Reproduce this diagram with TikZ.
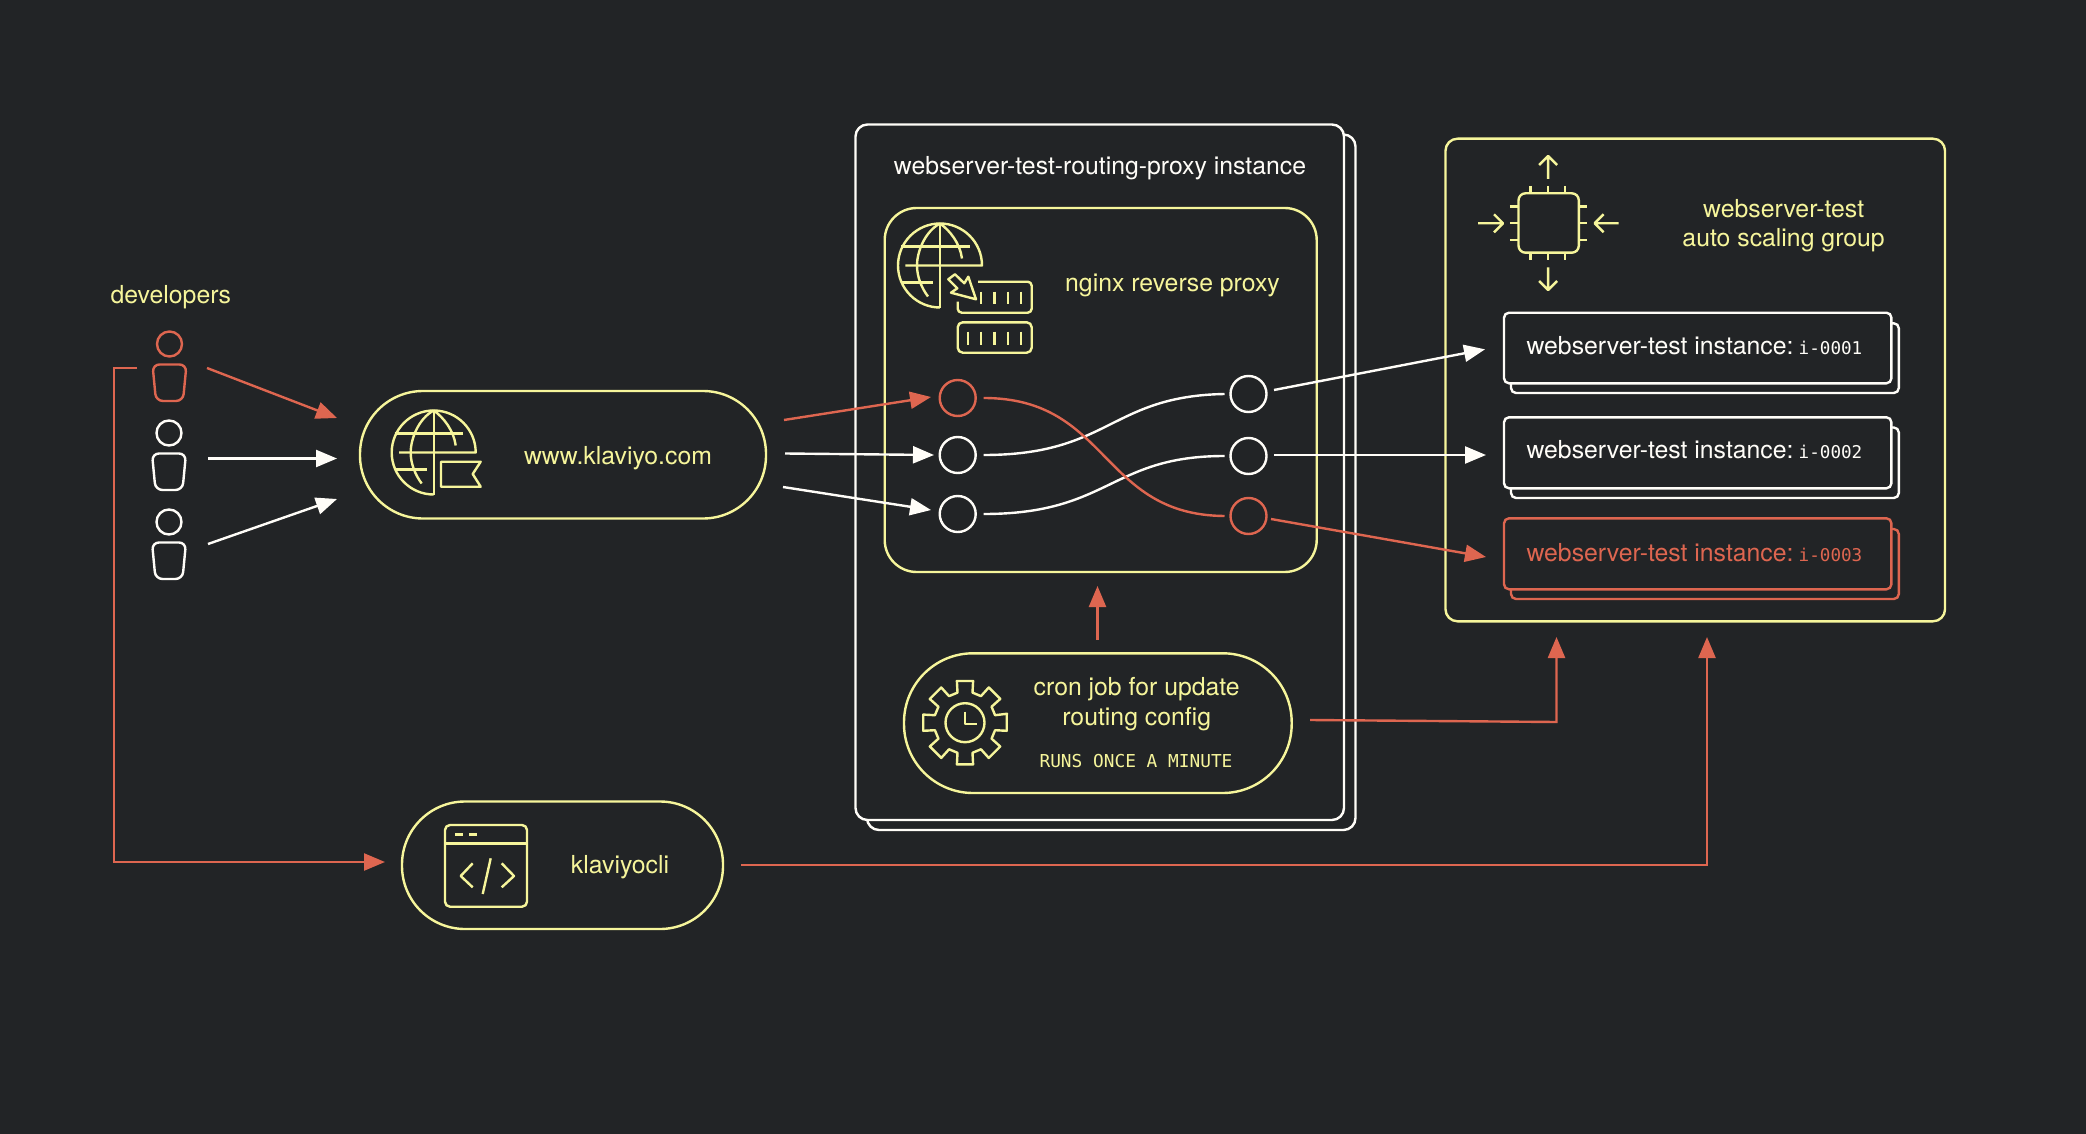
\documentclass[tikz,border=0pt]{standalone}
\usepackage{fontspec}
\setmainfont{TeX Gyre Heros}
\newfontfamily\monof{DejaVu Sans Mono}
\usetikzlibrary{arrows.meta}
\definecolor{bgc}{HTML}{222426}
\definecolor{yel}{HTML}{F6F59B}
\definecolor{redc}{HTML}{DE6650}
\definecolor{whi}{HTML}{FFFDF8}
\newcommand{\bx}[6][]{%
  \pgfmathsetmacro\bxw{#5-#3}\pgfmathsetmacro\bxh{#6-#4}%
  \node[#1,minimum width=\bxw pt,minimum height=\bxh pt,anchor=north west,inner sep=0pt,outer sep=0pt] (#2) at (#3,#4) {};}
\newcommand{\globeicon}[2]{%
  \begin{scope}[shift={(#1,#2)},yline]
  \draw (0,42) .. controls (-23.2,42) and (-42,23.2) .. (-42,0) .. controls (-42,-23.2) and (-23.2,-42) .. (0,-42) .. controls (23.2,-42) and (42,-23.2) .. (42,0) -- (-34.7,0);
  \draw (0,-42) -- (0,42);
  \draw (-39,-19) -- (29.5,-19);
  \draw (-38,17) -- (-7,17);
  \draw (0,-42) .. controls (-15,-34) and (-23,-14) .. (-23,0) .. controls (-23,12) and (-18,23) .. (-12,31);
  \draw (0,-42) .. controls (10,-35) and (20,-22) .. (22,-7);
  \end{scope}}
\newcommand{\person}[3]{%
  \begin{scope}[shift={(#1,#2)},line width=2.4pt,draw=#3]
  \node[circle,draw=#3,line width=2.4pt,minimum size=25pt,inner sep=0pt,outer sep=0pt] (head#1#2) at (0,0) {};
  \draw[rounded corners=7pt] (-17,20.5) -- (17,20.5) -- (13.5,57) -- (-13.5,57) -- cycle;
  \end{scope}}
\newcommand{\idtext}[1]{\hspace{-4pt}{\monof\fontsize{17.6}{20}\selectfont #1}}
\tikzset{
  x=1pt,y=-1pt,
  yline/.style={draw=yel,line width=2.4pt,line join=round},
  wline/.style={draw=whi,line width=2.4pt},
  rline/.style={draw=redc,line width=2.4pt},
  warrow/.style={wline,-{Triangle[length=21pt,width=17pt]}},
  rarrow/.style={rline,line join=miter,-{Triangle[length=21pt,width=17pt]}},
  wcurve/.style={wline},
  rcurve/.style={rline},
  lab/.style={font=\fontsize{24.8}{28}\selectfont,anchor=base,inner sep=0pt,outer sep=0pt},
  ylab/.style={lab,text=yel},
  wlab/.style={lab,text=whi},
  portw/.style={circle,wline,minimum size=36pt,inner sep=0pt,outer sep=0pt},
  portr/.style={circle,rline,minimum size=36pt,inner sep=0pt,outer sep=0pt},
}
\begin{document}
\begin{tikzpicture}[x=1pt,y=-1pt]
\fill[bgc] (0,0) rectangle (2086,1134);
\useasboundingbox (0,0) rectangle (2086,1134);

% developers
\node[ylab,anchor=base west] (devlabel) at (110.5,303) {developers};
\person{169.5}{344}{redc}
\person{169}{433}{whi}
\person{169}{522}{whi}

% website pill
\bx[yline,rounded corners=63pt]{site}{360}{391}{766}{518.5}
\globeicon{433.7}{452.5}
\draw[yline] (441,461.7) -- (480.7,461.7) -- (472.7,474) -- (480.7,486.7) -- (441,486.7) -- cycle;
\node[ylab] (sitelabel) at (618,464) {www.klaviyo.com};

% proxy instance
\bx[wline,fill=bgc,rounded corners=12pt]{proxyback}{867}{134.5}{1355.5}{830}
\bx[wline,fill=bgc,rounded corners=12pt]{proxy}{855.5}{124.5}{1344}{820}
\node[wlab] (proxylabel) at (1100,174.5) {webserver-test-routing-proxy instance};
\bx[yline,rounded corners=32pt]{nginx}{884.7}{208}{1316.7}{572}
\globeicon{940}{265.5}
\draw[yline,fill=bgc] (957.7,301.7) -- (957.7,308) [rounded corners=4pt] -- (957.7,312.7) -- (1031.7,312.7) -- (1031.7,281.7) -- (978,281.7);
\foreach \tx in {981,994.3,1007.7,1020.7} \draw[yline] (\tx,291.7) -- (\tx,304);
\bx[yline,rounded corners=5pt]{srv}{957.7}{322.3}{1031.7}{352.7}
\foreach \tx in {967.7,981,994.3,1007.7,1020.7} \draw[yline] (\tx,331.7) -- (\tx,345);
\draw[yline,fill=bgc] (976,299.3) -- (968.3,276.7) -- (964.3,283.3) -- (955,274.3) -- (948.3,279.3) -- (957.3,288.3) -- (951,292.7) -- cycle;
\node[ylab] (nginxlabel) at (1172.5,291.2) {nginx reverse proxy};

% ports
\node[portr] (inA) at (957.7,398) {};
\node[portw] (inB) at (957.7,455) {};
\node[portw] (inC) at (957.7,514) {};
\node[portw] (outA) at (1248.5,394) {};
\node[portw] (outB) at (1248.5,456) {};
\node[portr] (outC) at (1248.5,516) {};
\draw[wcurve] ([xshift=8pt]inB.east) .. controls (1110,455) and (1110,396) .. ([xshift=-6pt]outA.west);
\draw[wcurve] ([xshift=8pt]inC.east) .. controls (1110,514) and (1110,456) .. ([xshift=-6pt]outB.west);
\draw[rcurve] ([xshift=8pt]inA.east) .. controls (1110,398) and (1100,515) .. ([xshift=-6pt]outC.west);

% cron pill
\bx[yline,rounded corners=69pt]{cron}{904}{653.3}{1291.7}{793}
\begin{scope}[shift={(965,722.7)}]
\draw[yline] (-12:43) \foreach \a in {0,45,...,315} { -- (\a-11:42.5) -- (\a+11:42.5) -- (\a+14:31) -- (\a+31:31) } -- cycle;
\node[circle,yline,minimum size=39pt,inner sep=0pt,outer sep=0pt] (clock) at (0,0) {};
\draw[yline] (0,-11) -- (0,1) -- (12,1);
\end{scope}
\node[ylab] (cronA) at (1136.7,695) {cron job for update};
\node[ylab] (cronB) at (1136.7,725) {routing config};
\node[ylab,font=\monof\fontsize{17.8}{20}\selectfont] (cronC) at (1136,767.5) {RUNS ONCE A MINUTE};

% klaviyocli pill
\bx[yline,rounded corners=63pt]{cli}{402}{801.5}{723}{929}
\bx[yline,rounded corners=5pt]{window}{445}{825}{527}{906.7}
\draw[yline] (window.west |- 0,843.3) -- (window.east |- 0,843.3);
\draw[yline] (455,834.3) -- (462.7,834.3) (469.3,834.3) -- (477.3,834.3);
\draw[yline] (472.7,863.3) -- (460.7,876) -- (472.7,887.3);
\draw[yline] (490.7,858.3) -- (482.7,894);
\draw[yline] (501.7,863.3) -- (514,876) -- (501.7,887.3);
\node[ylab] (clilabel) at (620,873.5) {klaviyocli};

% auto scaling group
\bx[yline,rounded corners=12pt]{asg}{1445.5}{138.7}{1945}{621.3}
\bx[yline,rounded corners=7pt]{chip}{1518.5}{193.3}{1578.8}{252.7}
\foreach \tx in {1530.5,1548.1,1565} {\draw[yline] (\tx,186) -- (\tx,193.3) (\tx,252.7) -- (\tx,260);}
\foreach \ty in {206.7,223.3,240} {\draw[yline] (1509.9,\ty) -- (1518.5,\ty) (1578.8,\ty) -- (1586.7,\ty);}
\draw[yline] (1548.1,179) -- (1548.1,156) (1539.1,165) -- (1548.1,156) -- (1557.1,165);
\draw[yline] (1548.1,267.3) -- (1548.1,290) (1539.1,281) -- (1548.1,290) -- (1557.1,281);
\draw[yline] (1478.2,223.3) -- (1503,223.3) (1494,214.3) -- (1503,223.3) -- (1494,232.3);
\draw[yline] (1618.7,223.3) -- (1594.6,223.3) (1603.6,214.3) -- (1594.6,223.3) -- (1603.6,232.3);
\node[ylab] (asgA) at (1783.6,217.5) {webserver-test};
\node[ylab] (asgB) at (1783.6,247) {auto scaling group};

% instances
\bx[wline,fill=bgc,rounded corners=5pt]{inst1b}{1511}{323.3}{1898.8}{393}
\bx[wline,fill=bgc,rounded corners=5pt]{inst1}{1504}{312.7}{1891.4}{383.3}
\bx[wline,fill=bgc,rounded corners=5pt]{inst2b}{1511}{427.5}{1898.8}{498}
\bx[wline,fill=bgc,rounded corners=5pt]{inst2}{1504}{417.3}{1891.4}{488.3}
\bx[rline,fill=bgc,rounded corners=5pt]{inst3b}{1511}{529}{1898.8}{599}
\bx[rline,fill=bgc,rounded corners=5pt]{inst3}{1504}{518.3}{1891.4}{589.3}
\node[wlab,anchor=base west] (inst1l) at (1526.5,354) {webserver-test instance: \idtext{i-0001}};
\node[wlab,anchor=base west] (inst2l) at (1526.5,458) {webserver-test instance: \idtext{i-0002}};
\node[lab,text=redc,anchor=base west] (inst3l) at (1526.5,561) {webserver-test instance: \idtext{i-0003}};

% connector ends
\coordinate (dA) at (207,368);
\coordinate (dB) at (208,458.5);
\coordinate (dC) at (208,544);
\coordinate (sA) at (337,418);
\coordinate (sB) at (337,458.5);
\coordinate (sC) at (337,499);
\coordinate (eA) at (784,420);
\coordinate (eB) at (785,453.5);
\coordinate (eC) at (783,487);
\coordinate (pA) at (931,397);
\coordinate (pB) at (934,455);
\coordinate (pC) at (931,510);
\coordinate (oA) at (1274,390);
\coordinate (oB) at (1274,455);
\coordinate (oC) at (1271,519);
\coordinate (iA) at (1485,349.3);
\coordinate (iB) at (1486,455);
\coordinate (iC) at (1486,557);
\coordinate (upS) at (1097.5,640);
\coordinate (upE) at (1097.5,586);
\coordinate (cS) at (1310,720);
\coordinate (cC) at (1556.5,722);
\coordinate (cE) at (1556.5,637);
\coordinate (kS) at (741,865);
\coordinate (kC) at (1707,865);
\coordinate (kE) at (1707,637);
\coordinate (rS) at (137,368);
\coordinate (rA) at (114,368);
\coordinate (rB) at (114,862);
\coordinate (rE) at (385,862);

\draw[rarrow] (dA) -- (sA);
\draw[warrow] (dB) -- (sB);
\draw[warrow] (dC) -- (sC);
\draw[rarrow] (eA) -- (pA);
\draw[warrow] (eB) -- (pB);
\draw[warrow] (eC) -- (pC);
\draw[warrow] (oA) -- (iA);
\draw[warrow] (oB) -- (iB);
\draw[rarrow] (oC) -- (iC);
\draw[rarrow] (upS) -- (upE);
\draw[rarrow] (cS) -- (cC) -- (cE);
\draw[rarrow] (kS) -- (kC) -- (kE);
\draw[rarrow] (rS) -- (rA) -- (rB) -- (rE);
\end{tikzpicture}
\end{document}
